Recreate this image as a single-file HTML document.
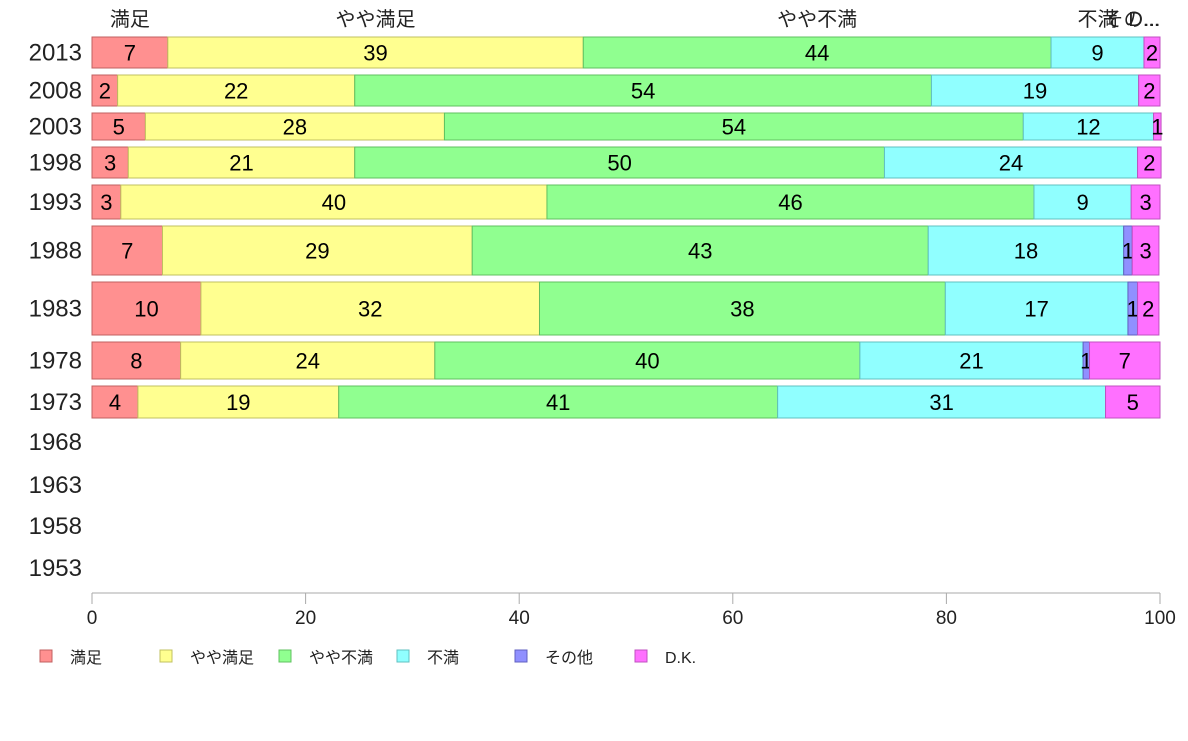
<!DOCTYPE html>
<html><head><meta charset="utf-8"><style>
body{margin:0;background:#fff;width:1188px;height:736px;overflow:hidden}
svg text{font-family:"Liberation Sans","Noto Sans CJK JP",sans-serif}
</style></head><body>
<svg id="chart" width="1188" height="736"></svg>
<script>
const years=["2013","2008","2003","1998","1993","1988","1983","1978","1973","1968","1963","1958","1953"];
const sampleWeight=[31,31,27,31,34,49,53,37,32,34,38,30,40];
const seriesNames=["満足","やや満足","やや不満","不満","その他","D.K."];
const satisfied=[7.1,2.4,5.0,3.4,2.7,6.6,10.2,8.3,4.3,0,0,0,0];
const someSatisfied=[38.9,22.2,28.0,21.2,39.9,29.0,31.7,23.8,18.8,0,0,0,0];
const someDissatisfied=[43.8,54.0,54.2,49.6,45.6,42.7,38.0,39.8,41.1,0,0,0,0];
const dissatisfied=[8.7,19.4,12.2,23.7,9.1,18.3,17.1,20.9,30.7,0,0,0,0];
const other=[0,0,0,0,0,0.8,0.9,0.6,0,0,0,0,0];
const dk=[1.5,2.0,0.7,2.2,2.7,2.5,2.0,6.6,5.1,0,0,0,0];
const xTicks=[0,20,40,60,80,100];
const fills=["#ff9090","#ffff90","#90ff90","#90ffff","#9090ff","#ff70ff"];
const strokes=["#c06060","#c0c060","#60c060","#60c0c0","#6060c0","#c050c0"];
const series=[satisfied,someSatisfied,someDissatisfied,dissatisfied,other,dk];
const ns="http://www.w3.org/2000/svg";
const svg=document.getElementById('chart');
const x0=92,x1=1160,top0=37,gap=7;
const xs=v=>x0+(x1-x0)*v/100;
function mk(t,a,p){const e=document.createElementNS(ns,t);for(const k in a)e.setAttribute(k,a[k]);(p||svg).appendChild(e);return e;}
let y=top0;
years.forEach((yr,i)=>{
  const h=sampleWeight[i];
  const lab=mk('text',{x:82,y:y+h/2+8,'text-anchor':'end','font-size':24,fill:'#222'});
  lab.textContent=yr;
  
  
  let cum=0;
  series.forEach((s,j)=>{
    const v=s[i];
    if(v>0){
      const r=mk('rect',{x:xs(cum),y:y,width:xs(cum+v)-xs(cum),height:h,fill:fills[j],stroke:strokes[j],'stroke-width':1});
      
      
      const t=mk('text',{x:(xs(cum)+xs(cum+v))/2,y:y+h/2+8,'text-anchor':'middle','font-size':22,fill:'#000'});
      t.textContent=Math.max(1,Math.round(v));
      
      
    }
    cum+=v;
  });
  y+=h+gap;
});
// top category labels based on 2013 row
let c=0;
const topLabels=["満足","やや満足","やや不満","不満","その...","D..."];
series.forEach((s,j)=>{
  const v=s[0];
  const cx=(xs(c)+xs(c+v))/2;
  const t=mk('text',{x:j==4?cx-12:(j==5?cx-8:cx),y:26,'text-anchor':'middle','font-size':20,fill:'#222'});
  t.textContent=topLabels[j];
  
  
  c+=v;
});
// axis
const axY=593;
const ax=mk('line',{x1:x0,x2:x1,y1:axY,y2:axY,stroke:'#aaa','stroke-width':1});


xTicks.forEach(v=>{
  const tk=mk('line',{x1:xs(v),x2:xs(v),y1:axY,y2:axY+11,stroke:'#aaa'});
  
  
  const t=mk('text',{x:xs(v),y:624,'text-anchor':'middle','font-size':19,fill:'#222'});
  t.textContent=v;
  
  
});
// legend
const legX=[40,160,279,397,515,635];
seriesNames.forEach((n,j)=>{
  const g=mk('g',{});
  
  
  mk('rect',{x:legX[j],y:650,width:12,height:12,fill:fills[j],stroke:strokes[j]},g);
  const t=mk('text',{x:legX[j]+30,y:663,'font-size':16,fill:'#222'},g);
  t.textContent=n;
});
</script>
</body></html>
